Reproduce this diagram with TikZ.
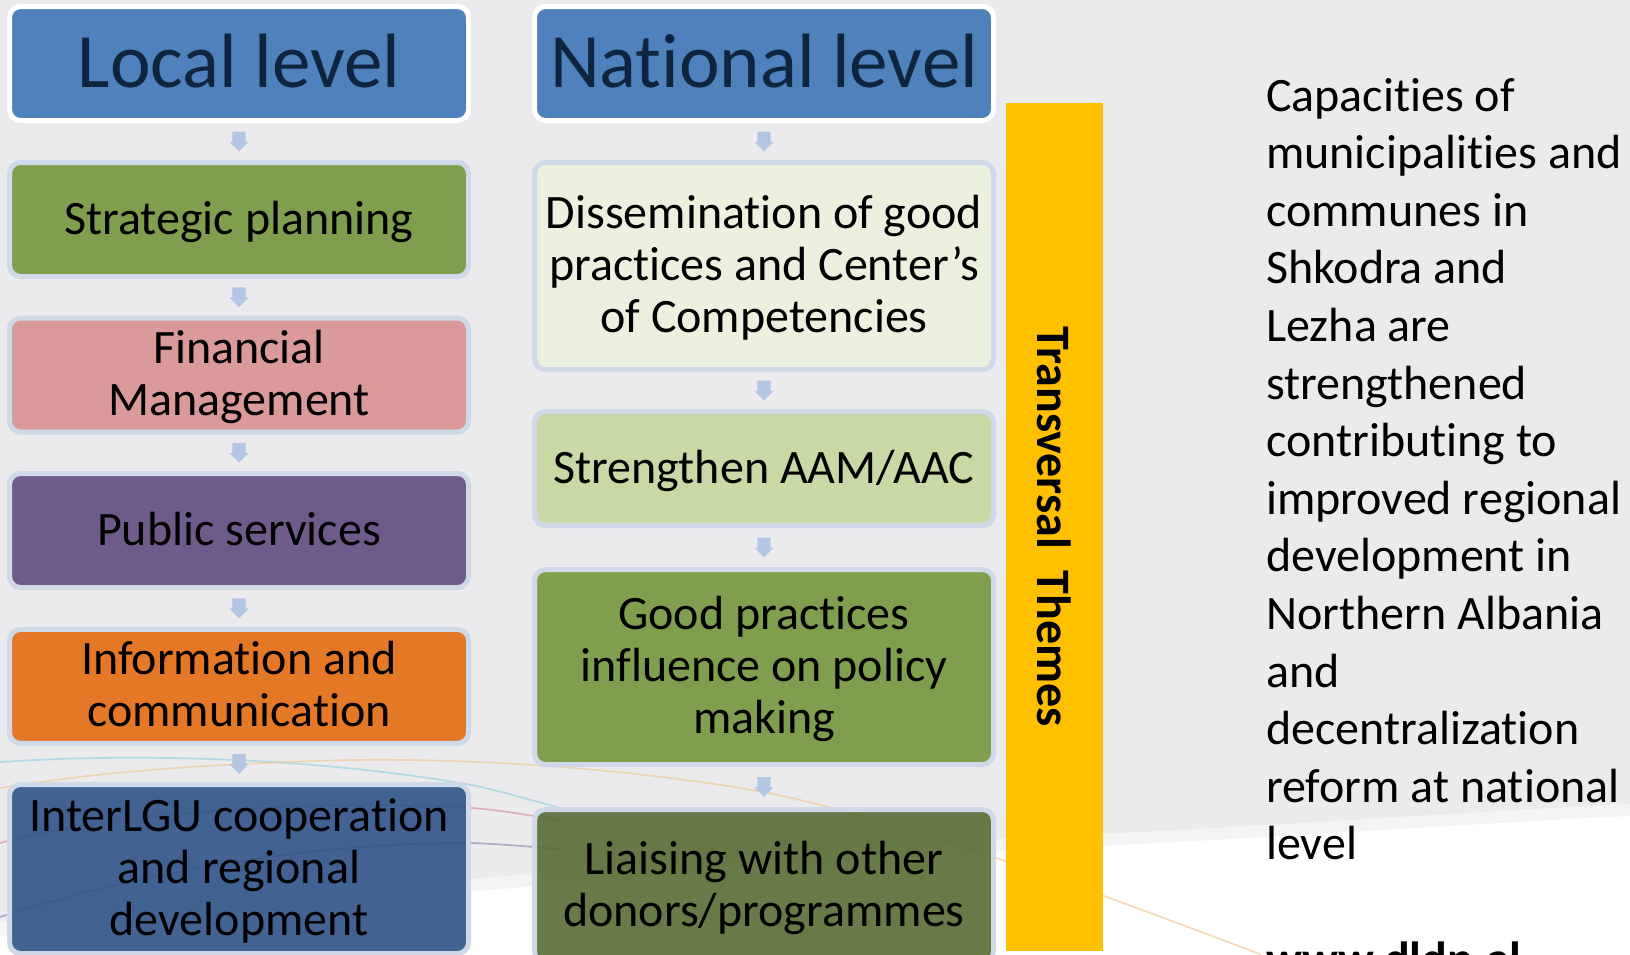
\documentclass[tikz,border=0pt]{standalone}
\usepackage{fontspec}
\setmainfont{Carlito}[Ligatures={NoCommon}]
\definecolor{pagegrey}{HTML}{EBEBEE}
\definecolor{hdblue}{HTML}{4F81BD}
\definecolor{hdtext}{HTML}{0F243E}
\definecolor{rim}{HTML}{D0D9E8}
\definecolor{arrowblue}{HTML}{B3C6E3}
\definecolor{olive}{HTML}{809F4E}
\definecolor{rose}{HTML}{D99A99}
\definecolor{plum}{HTML}{6E5B89}
\definecolor{amber}{HTML}{E57826}
\definecolor{deepblue}{HTML}{2F5488}
\definecolor{palegreen}{HTML}{EBF1DE}
\definecolor{sage}{HTML}{C8D9A5}
\definecolor{darkolive}{HTML}{576C33}
\definecolor{themeyellow}{HTML}{FFC000}
\definecolor{swcyan}{HTML}{8CCFE0}
\definecolor{swtan}{HTML}{EFC58C}
\definecolor{swred}{HTML}{D4849A}
\definecolor{swpurple}{HTML}{8C7CA6}
% struts that fix the height and depth of every text line in the boxes
\newcommand\lnstrut{\rule[-11pt]{0pt}{51pt}}
\newcommand\hdstrut{\rule[-13pt]{0pt}{73pt}}
\begin{document}
\begin{tikzpicture}[x=1pt,y=-1pt,
  stepbox/.style={draw=rim, line width=5pt, rounded corners=11pt,
    minimum width=459pt, align=center, inner sep=0pt, text=black,
    font=\fontsize{48}{52}\selectfont},
  headbox/.style={stepbox, draw=white, fill=hdblue, text=hdtext,
    minimum height=114pt, font=\fontsize{77}{90}\selectfont},
  swline/.style={line width=1.7pt, line cap=round, opacity=0.6},
  gaparrow/.pic={\fill[arrowblue] (-6.7,-10) -- (6.7,-10) -- (6.7,0) -- (9.7,0)
    -- (0,10) -- (-9.7,0) -- (-6.7,0) -- cycle;}]
\useasboundingbox (0,0) rectangle (1630,954);
\clip (0,0) rectangle (1630,954);

% slide background with the white sweep at the bottom
\fill[pagegrey] (0,0) rectangle (1630,954);
\fill[white, opacity=0.45] (0,922) .. controls (350,890) and (800,846) .. (1100,834)
  .. controls (1300,824) and (1500,810) .. (1630,804) -- (1630,954) -- (0,954) -- cycle;
\fill[white] (0,936) .. controls (350,903) and (800,858) .. (1100,846)
  .. controls (1300,836) and (1500,822) .. (1630,816) -- (1630,954) -- (0,954) -- cycle;

% thin coloured swoosh lines
\draw[swline, swcyan] (0,762) .. controls (120,754) and (300,755) .. (472,785)
  .. controls (500,791) and (520,797) .. (560,808);
\draw[swline, swtan] (0,788) .. controls (100,772) and (200,764) .. (350,760)
  .. controls (500,758) and (650,772) .. (764,792)
  .. controls (900,820) and (1050,875) .. (1260,954);
\draw[swline, swred] (0,843) .. controls (100,815) and (300,798) .. (472,808)
  .. controls (500,810) and (520,814) .. (560,820);
\draw[swline, swpurple] (0,917) .. controls (120,878) and (300,842) .. (472,843)
  .. controls (500,844) and (520,846) .. (560,849);

% local level column
\node[headbox] (loc) at (239,63.5) {\hdstrut Local level};
\node[stepbox, fill=olive, minimum height=114pt] (strat) at (239,219.5) {\lnstrut Strategic planning};
\node[stepbox, fill=rose, minimum height=114pt] (fin) at (239,375) {\lnstrut Financial\\\lnstrut Management};
\node[stepbox, fill=plum, minimum height=114pt] (pub) at (239,530.5) {\lnstrut Public services};
\node[stepbox, fill=amber, minimum height=114pt] (info) at (239,686.4)
  {\lnstrut Information and\\\lnstrut communication};
\node[stepbox, fill=deepblue, fill opacity=0.9, text opacity=1, minimum height=169pt] (inter) at (239,869)
  {\lnstrut InterLGU cooperation\\\lnstrut and regional\\\lnstrut development};

% national level column
\node[headbox] (nat) at (764,63.5) {\hdstrut National level};
\node[stepbox, fill=palegreen, minimum height=207pt] (diss) at (764,266)
  {\lnstrut Dissemination of good\\\lnstrut practices and Center’s\\\lnstrut of Competencies};
\node[stepbox, fill=sage, minimum height=114pt] (aam) at (764,468.5) {\lnstrut Strengthen AAM/AAC};
\node[stepbox, fill=olive, minimum height=195pt] (good) at (764,667)
  {\lnstrut Good practices\\\lnstrut influence on policy\\\lnstrut making};
\node[stepbox, fill=darkolive, fill opacity=0.9, text opacity=1, minimum height=153pt] (liais) at (764,886)
  {\lnstrut Liaising with other\\\lnstrut donors/programmes};

% block arrows in the gaps
\foreach \a/\b/\n in {loc/strat/l1, strat/fin/l2, fin/pub/l3, pub/info/l4, info/inter/l5,
                      nat/diss/r1, diss/aam/r2, aam/good/r3, good/liais/r4}
  {\path (\a.south) -- (\b.north) coordinate[midway] (\n);
   \pic at (\n) {gaparrow};}

% transversal themes bar
\node[fill=themeyellow, minimum width=97pt, minimum height=848pt, inner sep=0pt] (bar) at (1054.5,527) {};
\node[rotate=-90, inner sep=0pt, font=\fontsize{48}{52}\selectfont\bfseries] (themes) at (1054,526.5)
  {Transversal\ \ Themes};

% goal statement
\node[anchor=base west, inner sep=0pt, font=\fontsize{48}{57.6}\selectfont] (goal) at (1266,111)
  {\vtop{\hbox{Capacities of}\hbox{municipalities and}\hbox{communes in}
   \hbox{Shkodra and}\hbox{Lezha are}\hbox{strengthened}\hbox{contributing to}
   \hbox{improved regional}\hbox{development in}\hbox{Northern Albania}\hbox{and}
   \hbox{decentralization}\hbox{reform at national}\hbox{level}\hbox{}
   \hbox{\bfseries www.dldp.al}}};
\end{tikzpicture}
\end{document}
